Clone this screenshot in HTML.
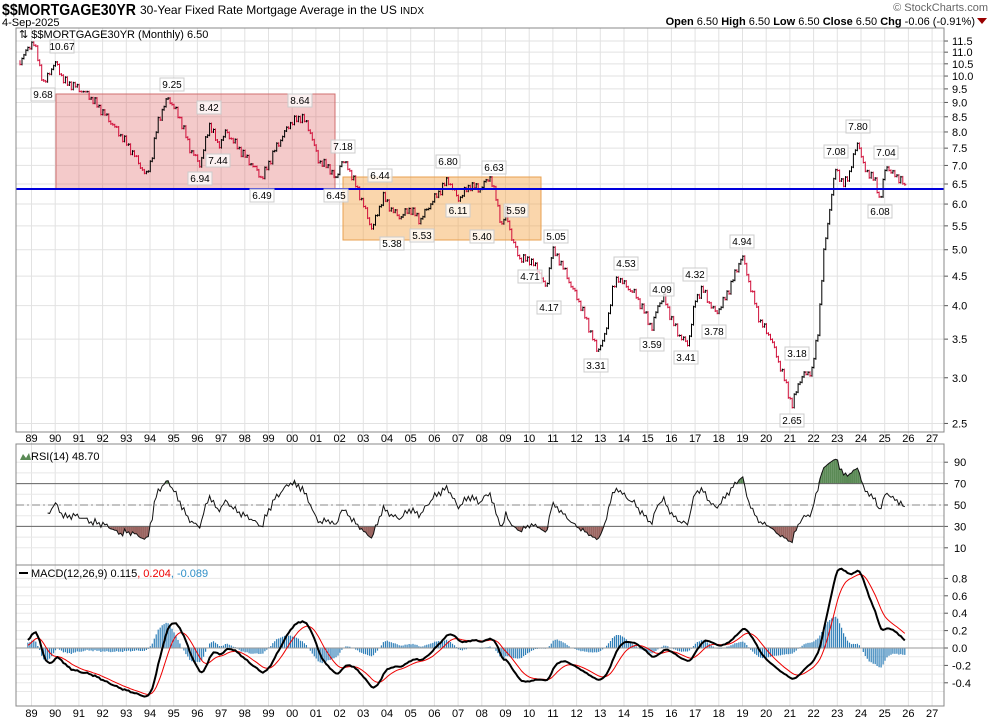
<!DOCTYPE html>
<html><head><meta charset="utf-8"><style>
body{margin:0;background:#fff;font-family:"Liberation Sans",sans-serif;}
svg text{font-family:"Liberation Sans",sans-serif;}
</style></head><body>
<svg id="c" width="990" height="722" xmlns="http://www.w3.org/2000/svg"></svg>
<script>
const S=document.getElementById('c');let h='';
const L=16,R=944;
function yP(p){return 184-(Math.log(p)-1.8718)*250.6;}
function pY(y){return Math.exp(1.8718+(184-y)/250.6);}
function xYr(yr){return 150+(yr-1994)*23.7;}
h+=`<text x="2" y="15" font-size="16" font-weight="bold" textLength="134" lengthAdjust="spacingAndGlyphs">$$MORTGAGE30YR</text>`;
h+=`<text x="140" y="14" font-size="12">30-Year Fixed Rate Mortgage Average in the US <tspan font-size="10">INDX</tspan></text>`;
h+=`<text x="2" y="26" font-size="11">4-Sep-2025</text>`;
h+=`<text x="988" y="11" font-size="11" fill="#666" text-anchor="end">© StockCharts.com</text>`;
h+=`<text x="975" y="25" font-size="11" text-anchor="end"><tspan font-weight="bold">Open</tspan> 6.50 <tspan font-weight="bold">High</tspan> 6.50 <tspan font-weight="bold">Low</tspan> 6.50 <tspan font-weight="bold">Close</tspan> 6.50 <tspan font-weight="bold">Chg</tspan> -0.06 (-0.91%)</text>`;
h+=`<polygon points="977,18 987,18 982,24" fill="#900"/>`;
const panels=[[28,432],[444,565],[565,706]];
for(let yr=1989;yr<=2027;yr++){const x=xYr(yr);if(x>L&&x<R)h+=`<line x1="${x}" y1="28" x2="${x}" y2="706" stroke="#e2e2e2"/>`;}
const ticks=[11.5,11,10.5,10,9.5,9,8.5,8,7.5,7,6.5,6,5.5,5,4.5,4,3.5,3,2.5];
ticks.forEach(t=>{const y=yP(t);h+=`<line x1="${L}" y1="${y}" x2="${R}" y2="${y}" stroke="#e2e2e2"/><line x1="${R}" y1="${y}" x2="${R+4}" y2="${y}" stroke="#555"/><text x="${R+8}" y="${y+4}" font-size="11">${t.toFixed(1)}</text>`;});
const rY=v=>505-(v-50)*1.07;
[90,80,70,60,50,40,30,20,10].forEach(v=>{h+=`<line x1="${L}" y1="${rY(v)}" x2="${R}" y2="${rY(v)}" stroke="#e8e8e8"/>`;});
[90,70,50,30,10].forEach(v=>{h+=`<line x1="${R}" y1="${rY(v)}" x2="${R+4}" y2="${rY(v)}" stroke="#555"/><text x="${R+10}" y="${rY(v)+4}" font-size="11">${v}</text>`;});
const mY=v=>648-v*87;
[0.8,0.7,0.6,0.5,0.4,0.3,0.2,0.1,0,-0.1,-0.2,-0.3,-0.4,-0.5].forEach(v=>{h+=`<line x1="${L}" y1="${mY(v)}" x2="${R}" y2="${mY(v)}" stroke="#e8e8e8"/>`;});
[0.8,0.6,0.4,0.2,0,-0.2,-0.4].forEach(v=>{h+=`<line x1="${R}" y1="${mY(v)}" x2="${R+4}" y2="${mY(v)}" stroke="#555"/><text x="${R+8}" y="${mY(v)+4}" font-size="11">${v.toFixed(1)}</text>`;});
for(let yr=1989;yr<=2027;yr++){const x=xYr(yr);const s=String(yr%100).padStart(2,'0');h+=`<text x="${x}" y="442" font-size="11" text-anchor="middle">${s}</text><text x="${x}" y="717" font-size="11" text-anchor="middle">${s}</text>`;}
const T=[[18,65],[25,55],[33,42],[38,60],[44,86],[50,70],[56,62],[64,80],[75,85],[88,95],[100,110],[112,125],[128,145],[138,160],[146,175],[152,155],[158,120],[168,98],[180,120],[190,150],[200,165],[210,122],[218,145],[226,130],[240,150],[255,170],[262,180],[275,150],[290,122],[302,115],[310,130],[318,160],[330,170],[336,182],[341,162],[348,168],[360,195],[372,228],[383,195],[392,210],[400,218],[410,210],[420,222],[430,205],[440,190],[448,178],[458,198],[470,185],[480,190],[490,178],[496,200],[502,228],[506,210],[512,240],[520,258],[530,258],[540,272],[546,290],[552,250],[560,262],[570,285],[580,305],[590,330],[597,350],[605,335],[612,290],[618,276],[625,285],[635,295],[645,315],[652,330],[658,305],[664,298],[672,320],[680,335],[688,343],[695,300],[702,288],[710,305],[716,315],[725,300],[735,275],[742,255],[750,285],[760,320],[770,335],[778,360],[786,385],[792,408],[798,385],[805,375],[812,372],[818,330],[824,250],[830,205],[836,165],[843,185],[850,170],[858,140],[864,170],[870,175],[876,185],[880,203],[886,166],[893,175],[900,178],[905,185]];
function interp(x){for(let i=0;i<T.length-1;i++){if(x>=T[i][0]&&x<=T[i+1][0]){const f=(x-T[i][0])/(T[i+1][0]-T[i][0]);return T[i][1]+f*(T[i+1][1]-T[i][1]);}}return T[T.length-1][1];}
const dx=23.7/12;const X=[],C=[];
for(let x=18;x<=905.5;x+=dx){let y=interp(x)+3*Math.sin(x*1.7)+2*Math.sin(x*0.63+1)+1.5*Math.sin(x*3.1);if(x>903)y=interp(x);X.push(x);C.push(pY(y));}
h+=`<rect x="56" y="94" width="279" height="95" fill="rgba(220,90,90,0.32)" stroke="#d07070"/>`;
h+=`<rect x="343" y="177" width="198" height="63" fill="rgba(245,165,70,0.45)" stroke="#e8a050"/>`;
let up='',dn='';
for(let i=1;i<C.length;i++){const x=X[i].toFixed(1),y0=yP(C[i-1]),y1=yP(C[i]);const lo=Math.min(y0,y1)-1,hi=Math.max(y0,y1)+1;const d=`M${x} ${lo.toFixed(1)}V${hi.toFixed(1)}M${x} ${y1.toFixed(1)}h1.5`;if(C[i]<C[i-1])dn+=d;else up+=d;}
h+=`<path d="${dn}" stroke="#d0103a" fill="none" stroke-width="1"/><path d="${up}" stroke="#000" fill="none" stroke-width="1"/>`;
h+=`<line x1="${L}" y1="189" x2="${R}" y2="189" stroke="#0000dd" stroke-width="2"/>`;
const A=[["10.67",62,48],["9.68",43,96],["9.25",172,86],["8.42",209,109],["7.44",218,162],["6.94",200,180],["6.49",262,197],["8.64",300,102],["7.18",343,148],["6.45",336,197],["6.44",380,177],["6.80",448,163],["6.63",494,169],["6.11",458,212],["5.59",516,212],["5.38",392,245],["5.53",422,237],["5.40",482,238],["5.05",556,238],["4.71",530,278],["4.17",549,309],["4.53",626,265],["4.09",662,291],["3.59",652,346],["3.31",596,367],["3.41",686,359],["4.32",695,276],["3.78",714,333],["4.94",742,243],["2.65",792,422],["3.18",797,355],["7.08",836,153],["7.80",858,128],["7.04",886,154],["6.08",880,213]];
A.forEach(a=>{h+=`<rect x="${a[1]-12}" y="${a[2]-8}" width="24" height="13" fill="rgba(255,255,255,0.75)" stroke="#ccc"/><text x="${a[1]}" y="${a[2]+2}" font-size="10" text-anchor="middle">${a[0]}</text>`;});
const rsi=[];let ag=0,al=0;for(let i=1;i<C.length;i++){const d=C[i]-C[i-1];const g=Math.max(d,0),l=Math.max(-d,0);if(i<=14){ag+=g/14;al+=l/14;}else{ag=(ag*13+g)/14;al=(al*13+l)/14;}rsi[i]=al==0?100:100-100/(1+ag/al);}
let rp='';for(let i=15;i<C.length;i++){rp+=(rp?'L':'M')+X[i].toFixed(1)+' '+rY(rsi[i]).toFixed(1);}
let fills='';for(let i=15;i<C.length-1;i++){const a=rsi[i],b=rsi[i+1];if(a>70||b>70){const ya=rY(Math.max(a,70)),yb=rY(Math.max(b,70));fills+=`<polygon points="${X[i]},${rY(70)} ${X[i]},${ya} ${X[i+1]},${yb} ${X[i+1]},${rY(70)}" fill="#5a8a55"/>`;}if(a<30||b<30){const ya=rY(Math.min(a,30)),yb=rY(Math.min(b,30));fills+=`<polygon points="${X[i]},${rY(30)} ${X[i]},${ya} ${X[i+1]},${yb} ${X[i+1]},${rY(30)}" fill="#9a6460"/>`;}}
h+=fills;
h+=`<line x1="${L}" y1="${rY(70)}" x2="${R}" y2="${rY(70)}" stroke="#666"/><line x1="${L}" y1="${rY(30)}" x2="${R}" y2="${rY(30)}" stroke="#666"/><line x1="${L}" y1="${rY(50)}" x2="${R}" y2="${rY(50)}" stroke="#888" stroke-dasharray="8,3,2,3"/>`;
h+=`<path d="${rp}" stroke="#111" fill="none" stroke-width="1"/>`;
h+=`<polygon points="20,460 23,454 26,458 29,453 31,460" fill="#5a8a55"/><text x="31" y="460" font-size="11">RSI(14) 48.70</text>`;
function ema(arr,n){const k=2/(n+1);const o=[];arr.forEach((v,i)=>{o[i]=i==0?v:v*k+o[i-1]*(1-k);});return o;}
const e12=ema(C,12),e26=ema(C,26);const m=C.map((v,i)=>e12[i]-e26[i]);const sg=ema(m,9);
let hp='';for(let i=5;i<C.length;i++){const hv=m[i]-sg[i];hp+=`M${X[i].toFixed(1)} 648V${mY(hv).toFixed(1)}`;}
h+=`<path d="${hp}" stroke="#2f7fb8" stroke-width="1.2" fill="none"/>`;
h+=`<line x1="${L}" y1="648" x2="${R}" y2="648" stroke="#999"/>`;
let mp='',sp='';for(let i=5;i<C.length;i++){mp+=(mp?'L':'M')+X[i].toFixed(1)+' '+mY(m[i]).toFixed(1);sp+=(sp?'L':'M')+X[i].toFixed(1)+' '+mY(sg[i]).toFixed(1);}
h+=`<path d="${sp}" stroke="#e00" fill="none" stroke-width="1"/><path d="${mp}" stroke="#000" fill="none" stroke-width="2"/>`;
h+=`<line x1="19" y1="573" x2="28" y2="573" stroke="#000" stroke-width="2"/><text x="31" y="577" font-size="11">MACD(12,26,9) 0.115<tspan fill="#e00">, 0.204</tspan><tspan fill="#2f8fc8">, -0.089</tspan></text>`;
h+=`<text x="19" y="38" font-size="11">⇅ $$MORTGAGE30YR (Monthly) 6.50</text>`;
panels.forEach(p=>{h+=`<rect x="${L}" y="${p[0]}" width="${R-L}" height="${p[1]-p[0]}" fill="none" stroke="#888"/>`;});
S.innerHTML=h;
</script>
</body></html>
